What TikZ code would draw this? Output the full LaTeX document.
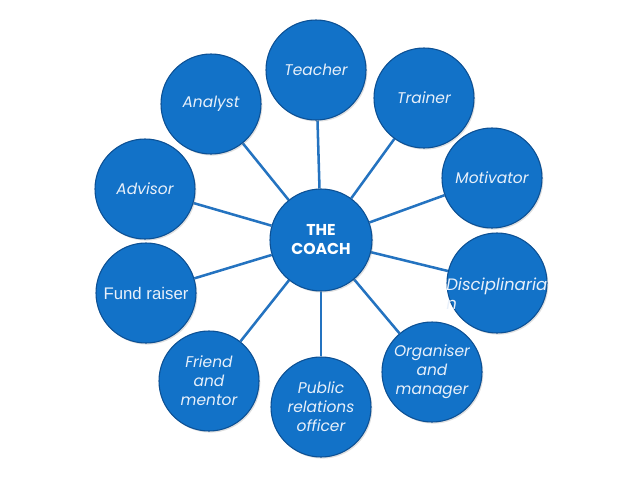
\documentclass[tikz,border=0pt]{standalone}
\usepackage{fontspec}
\setmainfont{Poppins}
\newfontfamily\arialfont{Liberation Sans}
\usetikzlibrary{backgrounds, shadows}

\definecolor{coachblue}{RGB}{18,114,200}
\definecolor{rimblue}{RGB}{12,80,148}
\definecolor{spokeblue}{RGB}{36,115,192}
\definecolor{paletext}{RGB}{232,240,250}

\begin{document}
\begin{tikzpicture}[
    x=0.75pt, y=-0.75pt,
    role/.style={circle, fill=coachblue, draw=rimblue, line width=0.8pt,
                 minimum size=75pt, inner sep=0pt, align=center,
                 text=paletext, font=\fontsize{11.6}{14.25}\selectfont\itshape,
                 drop shadow={shadow xshift=1pt, shadow yshift=-1.2pt, opacity=0.25}},
    hub/.style={role, minimum size=76.5pt, text=white,
                font=\fontsize{11.8}{14.25}\selectfont\bfseries},
    spoke/.style={draw=spokeblue, line width=1.9pt}
]
\useasboundingbox (0,0) rectangle (638,479);

% Centre
\node[hub] (coach) at (321,240) {THE\\COACH};

% Roles round the coach
\node[role] (teacher)   at (316,70)  {Teacher};
\node[role] (trainer)   at (424,98)  {Trainer};
\node[role] (motivator) at (492,178) {Motivator};
\node[role] (disc)      at (497,283) {};
\node[role] (organiser) at (432,372) {Organiser\\and\\manager};
\node[role] (public)    at (321,407) {Public\\relations\\officer};
\node[role] (friend)    at (209,381) {Friend\\and\\mentor};
\node[role, font=\fontsize{12.6}{14.25}\selectfont\arialfont] (fund) at (146,293) {Fund raiser};
\node[role] (advisor)   at (145,189) {Advisor};
\node[role] (analyst)   at (211,104) {Analyst};

% Overflowing text of the disciplinarian
\node[anchor=west, align=left, inner sep=0pt, text=paletext,
      font=\fontsize{12.4}{14.25}\selectfont\itshape] (disctext) at (446,294) {Disciplinaria\\n};

% Spokes
\begin{scope}[on background layer]
\draw[spoke] (coach) -- (teacher);
\draw[spoke] (coach) -- (trainer);
\draw[spoke] (coach) -- (motivator);
\draw[spoke] (coach) -- (disc);
\draw[spoke] (coach) -- (organiser);
\draw[spoke] (coach) -- (public);
\draw[spoke] (coach) -- (friend);
\draw[spoke] (coach) -- (fund);
\draw[spoke] (coach) -- (advisor);
\draw[spoke] (coach) -- (analyst);
\end{scope}

\end{tikzpicture}
\end{document}
